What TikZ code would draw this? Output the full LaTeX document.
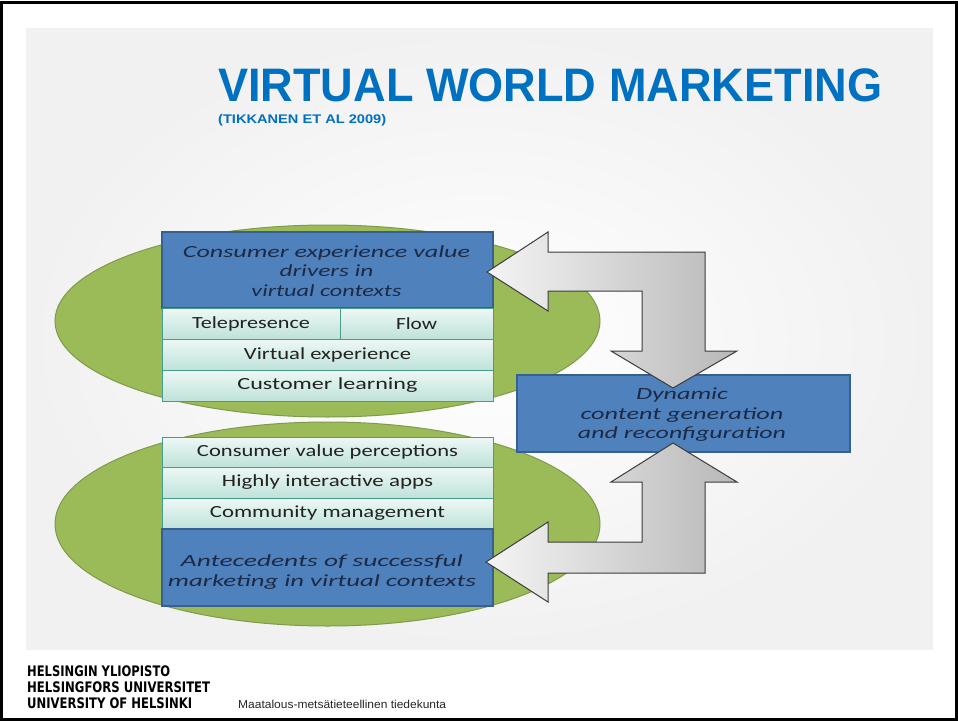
\documentclass[tikz,border=0pt]{standalone}
\usepackage{fontspec}
\usepackage{graphicx}
\usetikzlibrary{shapes.geometric}
\setmainfont{Carlito}
\newfontfamily\arialfont{Liberation Sans}
\newfontfamily\footfont{DejaVu Sans}
\definecolor{titleblue}{HTML}{0070C0}
\definecolor{ellfill}{HTML}{9BBB59}
\definecolor{ellline}{HTML}{7F9A4A}
\definecolor{boxblue}{HTML}{4F81BD}
\definecolor{boxline}{HTML}{35608F}
\definecolor{boxtext}{HTML}{1C2A45}
\definecolor{celltop}{HTML}{EEF8F5}
\definecolor{cellbot}{HTML}{BEE2DA}
\definecolor{cellline}{HTML}{4A9C8A}
\definecolor{celltext}{HTML}{222222}
\definecolor{arrL}{HTML}{F4F4F4}
\definecolor{arrR}{HTML}{B8B8B8}
\definecolor{arrline}{HTML}{3C3C3C}
\definecolor{panelout}{HTML}{F1F1F1}
\newcommand{\fw}[2]{\resizebox{#1pt}{\height}{#2}}
\begin{document}
\begin{tikzpicture}[x=1pt,y=-1pt,
  ellnode/.style={ellipse, draw=ellline, fill=ellfill, line width=1pt, inner sep=0pt},
  bluebox/.style={draw=boxline, fill=boxblue, line width=1.2pt, inner sep=0pt, minimum width=331pt},
  boxtxt/.style={text=boxtext, font=\fontsize{17}{19.5}\selectfont\itshape, align=center, inner sep=0pt},
  cellbox/.style={draw=cellline, top color=celltop, bottom color=cellbot, line width=1pt, inner sep=0pt,
     text=celltext, font=\fontsize{17}{19.5}\selectfont},
  bigarrow/.style={draw=arrline, line width=1pt, left color=arrL, right color=arrR, line join=miter},
  foot/.style={anchor=base west, inner sep=0pt, font=\footfont\bfseries\fontsize{14.5}{14.5}\selectfont}
]
\useasboundingbox (0,0) rectangle (958,722);
\fill[white] (0,0) rectangle (958,722);
% panel
\path[shading=radial, inner color=white, outer color=panelout] (26,29) rectangle (933,649);
% frame
\draw[line width=3pt, black] (1.5,3) rectangle (956.5,719.5);

% title
\node[anchor=base west, inner sep=0pt, text=titleblue, font=\arialfont\bfseries\fontsize{47}{47}\selectfont] (title) at (218,102) {\fw{664}{VIRTUAL WORLD MARKETING}};
\node[anchor=base west, inner sep=0pt, text=titleblue, font=\arialfont\bfseries\fontsize{12.5}{12.5}\selectfont] (subtitle) at (218,124) {\fw{168}{(TIKKANEN ET AL 2009)}};

% ellipses
\node[ellnode, minimum width=545pt, minimum height=192pt] (ellTop) at (327.5,321) {};
\node[ellnode, minimum width=545pt, minimum height=204pt] (ellBot) at (327.5,524) {};

% top block
\node[bluebox, minimum height=76pt] (cevd) at (327.5,270) {};
\node[boxtxt] (cevdt) at (326.5,271) {\fw{287}{Consumer experience value}\\ \fw{94}{drivers in}\\ \fw{150}{virtual contexts}};
\node[cellbox, minimum width=178pt, minimum height=31pt] (tele) at (251,323.5) {\fw{118}{Telepresence}};
\node[cellbox, minimum width=153pt, minimum height=31pt] (flow) at (416.5,323.5) {\fw{41}{Flow}};
\node[cellbox, minimum width=331pt, minimum height=31pt] (vexp) at (327.5,354.5) {\fw{167}{Virtual experience}};
\node[cellbox, minimum width=331pt, minimum height=31pt] (clearn) at (327.5,385.5) {\fw{180}{Customer learning}};

% bottom block
\node[cellbox, minimum width=331pt, minimum height=30pt] (cvp) at (327.5,452) {\fw{261}{Consumer value perceptions}};
\node[cellbox, minimum width=331pt, minimum height=31pt] (hia) at (327.5,482.5) {\fw{211}{Highly interactive apps}};
\node[cellbox, minimum width=331pt, minimum height=31pt] (cm) at (327.5,513.5) {\fw{235}{Community management}};
\node[bluebox, minimum height=77pt] (ante) at (327.5,567.5) {};
\node[boxtxt] (antet) at (322,572) {\fw{282}{Antecedents of successful}\\ \fw{308}{marketing in virtual contexts}};

% dynamic box
\node[bluebox, minimum width=333pt, minimum height=77pt] (dyn) at (683.5,413.5) {};
\node[boxtxt] (dynt) at (682,415) {\fw{92}{Dynamic}\\ \fw{203}{content generation}\\ \fw{208}{and reconfiguration}};

% arrows
\path[bigarrow] (487,272) -- (548,232) -- (548,252) -- (705,252) -- (705,351) -- (737,351)
   -- (673,388) -- (611,351) -- (642,351) -- (642,291) -- (548,291) -- (548,311) -- cycle;
\path[bigarrow] (486,562) -- (548,522) -- (548,542) -- (642,542) -- (642,482) -- (611,482)
   -- (673,443) -- (737,482) -- (705,482) -- (705,573) -- (548,573) -- (548,602) -- cycle;

% footer
\node[foot] (hy) at (27,676) {\fw{143}{HELSINGIN YLIOPISTO}};
\node[foot] (hu) at (27,692) {\fw{183}{HELSINGFORS UNIVERSITET}};
\node[foot] (uh) at (27,708) {\fw{165}{UNIVERSITY OF HELSINKI}};
\node[anchor=base west, inner sep=0pt, text=black!85, font=\arialfont\fontsize{11.5}{11.5}\selectfont] (fac) at (238,708) {\fw{208}{Maatalous-metsätieteellinen tiedekunta}};
\end{tikzpicture}
\end{document}
